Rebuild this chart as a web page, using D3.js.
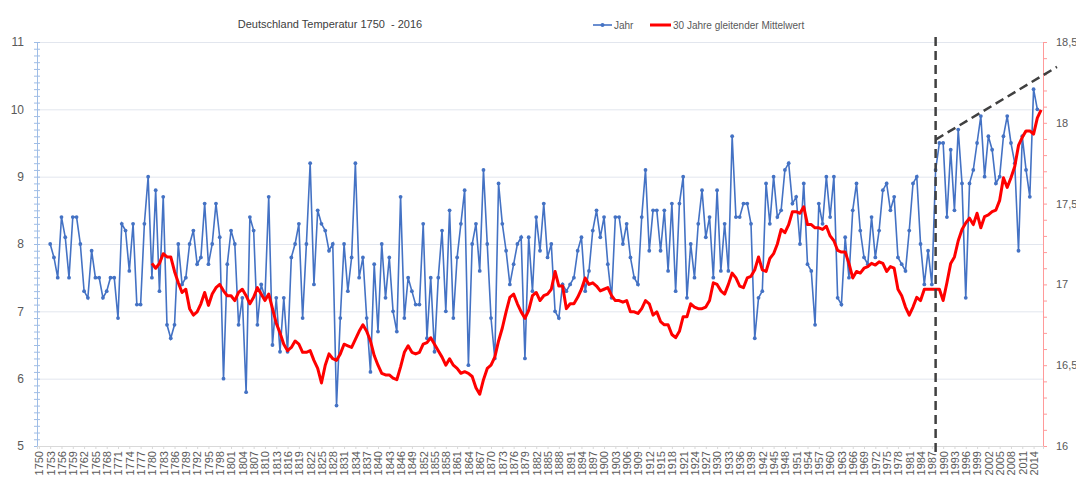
<!DOCTYPE html>
<html>
<head>
<meta charset="utf-8">
<script src="https://cdn.jsdelivr.net/npm/d3@7"></script>
<style>
body { margin: 0; background: #fff; }
text { font-family: "Liberation Sans", Arial, sans-serif; }
</style>
</head>
<body>
<div id="container"></div>
<script>
// categories on the x axis (every year), labels every 3 years
var years = d3.range(1750, 2017);
var labelYears = d3.range(1750, 2015, 3);

// yearly mean temperature (left axis), starting 1753
var tempStart = 1753;
var temps = [
  8.0,7.8,7.5,8.4,8.1,7.5,8.4,8.4,8.0,7.3,
  7.2,7.9,7.5,7.5,7.2,7.3,7.5,7.5,6.9,8.3,
  8.2,7.6,8.3,7.1,7.1,8.3,9.0,7.5,8.8,7.3,
  8.7,6.8,6.6,6.8,8.0,7.4,7.5,8.0,8.2,7.7,
  7.8,8.6,7.7,8.0,8.6,8.1,6.0,7.7,8.2,8.0,
  6.8,7.2,5.8,8.4,8.2,6.8,7.4,7.2,8.7,6.5,
  7.2,6.4,7.2,6.4,7.8,8.0,8.3,6.9,8.0,9.2,
  7.4,8.5,8.3,8.2,7.9,8.0,5.6,6.9,8.0,7.3,
  7.8,9.2,7.5,7.8,6.9,6.1,7.7,6.7,8.0,7.2,
  7.8,7.0,6.7,8.7,6.9,7.5,7.3,7.1,7.1,8.3,
  6.6,7.5,6.4,7.5,8.2,7.0,8.5,6.9,7.8,8.3,
  8.8,6.2,8.0,8.3,7.6,9.1,8.0,6.9,6.3,8.9,
  8.3,7.9,7.4,7.7,8.0,8.1,6.3,8.1,7.3,8.4,
  7.9,8.6,7.8,8.0,7.0,6.9,7.4,7.3,7.4,7.5,
  7.9,8.1,7.3,7.6,8.2,8.5,8.1,8.4,7.7,7.2,
  8.4,8.4,8.0,8.3,7.8,7.5,7.4,8.4,9.1,7.9,
  8.5,8.5,7.9,8.5,7.6,8.6,7.3,8.6,9.0,7.2,
  8.0,7.5,8.3,8.8,8.1,8.4,7.5,8.8,7.6,8.3,
  7.6,9.6,8.4,8.4,8.6,8.6,8.3,6.6,7.2,7.3,
  8.9,8.3,9.0,8.4,8.5,9.1,9.2,8.6,8.7,8.0,
  8.9,7.7,7.6,6.8,8.6,8.3,9.0,8.4,9.0,7.2,
  7.1,8.1,7.5,8.5,8.9,8.2,7.8,7.7,8.4,7.8,
  8.2,8.8,8.9,8.5,8.7,7.8,7.7,7.6,8.2,8.9,
  9.0,8.0,7.4,7.9,7.4,9.1,9.5,9.5,8.4,9.4,
  8.5,9.7,8.9,7.2,8.9,9.1,9.5,9.9,9.0,9.6,
  9.4,8.9,9.0,9.6,9.9,9.5,9.2,7.9,9.6,9.1,
  8.7,10.3,10.0
];

// 30 year moving average (right axis), starting 1780
var avgStart = 1780;
var avg30 = [
  17.13,17.10,17.13,17.19,17.17,17.17,17.08,17.01,16.95,16.97,
  16.85,16.81,16.83,16.88,16.95,16.87,16.94,16.98,17.00,16.96,
  16.93,16.93,16.90,16.95,16.97,16.93,16.88,16.92,16.98,16.94,
  16.90,16.94,16.85,16.76,16.70,16.63,16.59,16.61,16.65,16.63,
  16.58,16.58,16.59,16.53,16.48,16.39,16.50,16.57,16.54,16.53,
  16.57,16.63,16.62,16.61,16.66,16.71,16.75,16.71,16.65,16.56,
  16.50,16.45,16.44,16.44,16.42,16.41,16.49,16.58,16.62,16.58,
  16.57,16.58,16.63,16.64,16.67,16.63,16.59,16.55,16.50,16.54,
  16.50,16.48,16.45,16.46,16.45,16.43,16.36,16.32,16.41,16.48,
  16.50,16.55,16.65,16.73,16.83,16.92,16.94,16.88,16.83,16.79,
  16.84,16.93,16.95,16.90,16.93,16.94,16.97,17.08,16.99,16.99,
  16.85,16.88,16.88,16.92,16.97,17.04,17.00,17.01,16.99,16.96,
  16.97,16.98,16.93,16.90,16.90,16.89,16.90,16.83,16.83,16.82,
  16.85,16.90,16.88,16.81,16.83,16.77,16.75,16.75,16.69,16.67,
  16.71,16.80,16.80,16.88,16.86,16.85,16.85,16.86,16.90,17.01,
  17.00,16.96,16.94,17.00,17.07,17.04,16.99,16.98,17.04,17.05,
  17.09,17.17,17.09,17.08,17.16,17.19,17.25,17.34,17.32,17.37,
  17.45,17.45,17.44,17.48,17.37,17.37,17.35,17.35,17.34,17.36,
  17.30,17.27,17.21,17.20,17.20,17.13,17.04,17.08,17.07,17.10,
  17.11,17.13,17.12,17.14,17.13,17.08,17.11,17.10,16.97,16.93,
  16.86,16.81,16.86,16.92,16.90,16.97,16.97,16.97,16.97,16.97,
  16.90,17.01,17.13,17.17,17.27,17.34,17.38,17.41,17.37,17.44,
  17.35,17.42,17.43,17.45,17.46,17.52,17.66,17.60,17.66,17.73,
  17.86,17.91,17.95,17.95,17.93,18.03,18.08
];

var leftTicks = [5, 6, 7, 8, 9, 10, 11];
var rightTicks = [16, 16.5, 17, 17.5, 18, 18.5];

// hand drawn markers: break year and trend line (year, left axis value)
var breakYear = 1988;
var trendLine = [[1988, 9.55], [2020.2, 10.63]];

var margin = {top: 42, right: 33, bottom: 36, left: 37},
    width = 1076 - margin.left - margin.right,
    height = 482 - margin.top - margin.bottom;

var root = d3.select("#container")
    .append("svg")
        .attr("width", width + margin.left + margin.right)
        .attr("height", height + margin.top + margin.bottom);

var svg = root.append("g")
        .attr("transform", "translate(" + margin.left + "," + margin.top + ")");

var x = d3.scalePoint().domain(years).range([0, width]).padding(0.5);
var xLin = d3.scaleLinear().domain([1750, 2016]).range([x(1750), x(2016)]);
var y = d3.scaleLinear().domain([5, 11]).range([height, 0]);
var y2 = d3.scaleLinear().domain([16, 18.5]).range([height, 0]);

// grid
svg.append("g")
    .attr("class", "grid")
    .call(d3.axisLeft(y).tickValues(leftTicks).tickSize(-width).tickFormat(""))
    .call(g => g.select(".domain").remove())
    .selectAll("line")
    .attr("stroke", "#e2e6ee");

// left axis
svg.append("g")
    .call(d3.axisLeft(y).tickValues(d3.range(50, 111).map(d => d / 10)).tickSize(3).tickFormat(""))
    .call(g => g.selectAll("line").attr("x1", 3).attr("stroke", "#9fbde6"))
    .call(g => g.select(".domain").attr("stroke", "#9fbde6"));

svg.append("g")
    .call(d3.axisLeft(y).tickValues(leftTicks).tickSize(0).tickPadding(13).tickFormat(d3.format("d")))
    .call(g => g.select(".domain").remove())
    .selectAll("text")
    .attr("fill", "#595959")
    .style("font-size", "12px");

// right axis
svg.append("g")
    .attr("transform", "translate(" + width + ",0)")
    .call(d3.axisRight(y2).tickValues(d3.range(160, 186).map(d => d / 10)).tickSize(4).tickFormat(""))
    .call(g => g.selectAll("line").attr("stroke", "#ff9a9a"))
    .call(g => g.select(".domain").attr("stroke", "#ff9a9a"));

svg.append("g")
    .attr("transform", "translate(" + width + ",0)")
    .call(d3.axisRight(y2).tickValues(rightTicks).tickSize(0).tickPadding(13)
        .tickFormat(d => String(d).replace(".", ",")))
    .call(g => g.select(".domain").remove())
    .selectAll("text")
    .attr("fill", "#595959")
    .style("font-size", "11px");

// bottom axis
svg.append("g")
    .attr("transform", "translate(0," + height + ")")
    .call(d3.axisBottom(x).tickValues(labelYears).tickSize(3))
    .call(g => g.select(".domain").attr("stroke", "#d9d9d9"))
    .call(g => g.selectAll("line").attr("stroke", "#d9d9d9"))
    .selectAll("text")
    .attr("transform", "rotate(-90)")
    .attr("text-anchor", "end")
    .attr("x", -5)
    .attr("y", 0)
    .attr("dy", "0.35em")
    .attr("fill", "#595959")
    .style("font-size", "11px");

// yearly series
var tempData = temps.map((v, i) => ({year: tempStart + i, value: v}));
var avgData = avg30.map((v, i) => ({year: avgStart + i, value: v}));

svg.append("path")
    .datum(tempData)
    .attr("fill", "none")
    .attr("stroke", "#4472c4")
    .attr("stroke-width", 1.6)
    .attr("d", d3.line().x(d => x(d.year)).y(d => y(d.value)));

svg.selectAll(".dot")
    .data(tempData)
    .enter()
    .append("circle")
    .attr("class", "dot")
    .attr("cx", d => x(d.year))
    .attr("cy", d => y(d.value))
    .attr("r", 1.9)
    .attr("fill", "#4472c4");

svg.append("path")
    .datum(avgData)
    .attr("fill", "none")
    .attr("stroke", "#ff0000")
    .attr("stroke-width", 3)
    .attr("stroke-linejoin", "round")
    .attr("d", d3.line().x(d => x(d.year)).y(d => y2(d.value)));

// dashed markers
svg.append("line")
    .attr("x1", xLin(breakYear)).attr("x2", xLin(breakYear))
    .attr("y1", -5).attr("y2", height + 9)
    .attr("stroke", "#404040")
    .attr("stroke-width", 2.5)
    .attr("stroke-dasharray", "9,5");

svg.append("line")
    .attr("x1", xLin(trendLine[0][0])).attr("y1", y(trendLine[0][1]))
    .attr("x2", xLin(trendLine[1][0])).attr("y2", y(trendLine[1][1]))
    .attr("stroke", "#404040")
    .attr("stroke-width", 2.5)
    .attr("stroke-dasharray", "9,5");

// title
root.append("text")
    .attr("x", 330)
    .attr("y", 28)
    .attr("text-anchor", "middle")
    .attr("fill", "#404040")
    .style("font-size", "11px")
    .style("white-space", "pre")
    .text("Deutschland Temperatur 1750  - 2016");

// legend
var legend = root.append("g").attr("transform", "translate(593,25)");
legend.append("line").attr("x1", 0).attr("x2", 19).attr("stroke", "#4472c4").attr("stroke-width", 1.6);
legend.append("circle").attr("cx", 9.5).attr("r", 2).attr("fill", "#4472c4");
legend.append("text").attr("x", 21).attr("y", 3.5).attr("fill", "#595959").style("font-size", "10px").text("Jahr");
legend.append("line").attr("x1", 57).attr("x2", 78).attr("stroke", "#ff0000").attr("stroke-width", 3);
legend.append("text").attr("x", 80).attr("y", 3.5).attr("fill", "#595959").style("font-size", "10px").text("30 Jahre gleitender Mittelwert");
</script>
</body>
</html>
